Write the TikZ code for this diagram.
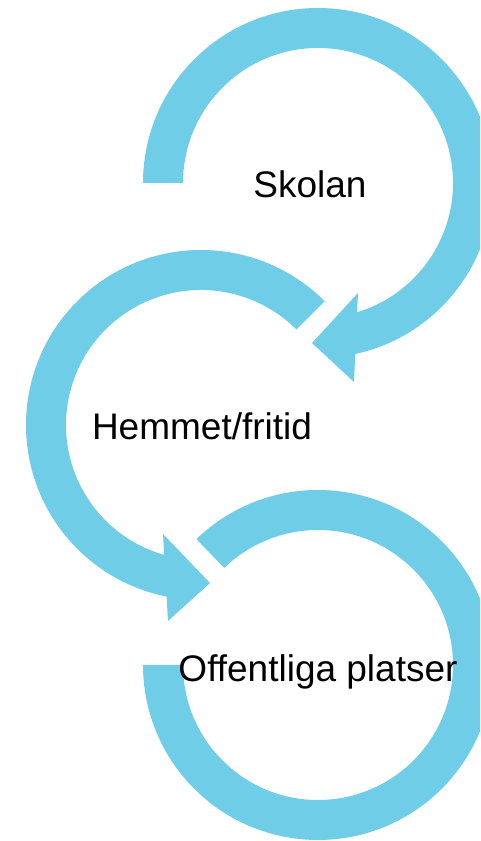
\documentclass[tikz,border=0pt]{standalone}
\usepackage{fontspec}
\setmainfont{Liberation Sans}
\usepackage{tikz}
\usetikzlibrary{calc}
\usetikzlibrary{positioning}
\definecolor{ringblue}{RGB}{112,205,232}

\begin{document}
\begin{tikzpicture}[x=1pt,y=1pt,
  ring/.style={fill=ringblue,draw=none},
  lbl/.style={anchor=base,inner sep=0pt,font=\fontsize{37}{44}\selectfont}]
\useasboundingbox (0,0) rectangle (480,841);
\clip (0,0) rectangle (480,841);
\coordinate (c1) at (318,658);
\coordinate (c2) at (201,416);
\coordinate (c3) at (318,176);
% Skolan
\fill[ring] ([shift={(180:175pt)}]c1) arc[start angle=180,end angle=-80,radius=175pt]
  -- ([shift={(-80:135pt)}]c1) arc[start angle=-80,end angle=180,radius=135pt] -- cycle;
\fill[ring] ($(c1)+(40,-110)$) -- ($(c1)+(-6,-160)$) -- ($(c1)+(36,-199)$) -- cycle;
% Hemmet/fritid
\fill[ring] ([shift={(45:175pt)}]c2) arc[start angle=45,end angle=260,radius=175pt]
  -- ([shift={(260:135pt)}]c2) arc[start angle=260,end angle=45,radius=135pt] -- cycle;
\fill[ring] ($(c2)+(-38,-109)$) -- ($(c2)+(9,-158)$) -- ($(c2)+(-33,-196)$) -- cycle;
% Offentliga platser
\fill[ring] ([shift={(134:175pt)}]c3) arc[start angle=134,end angle=-180,radius=175pt]
  -- ([shift={(-180:135pt)}]c3) arc[start angle=-180,end angle=134,radius=135pt] -- cycle;
\node[lbl] (skolan) at (310,643) {Skolan};
\node[lbl] (hemmet) at (202,401) {Hemmet/fritid};
\node[lbl] (offentliga) at (318,159) {Offentliga platser};
\end{tikzpicture}
\end{document}
